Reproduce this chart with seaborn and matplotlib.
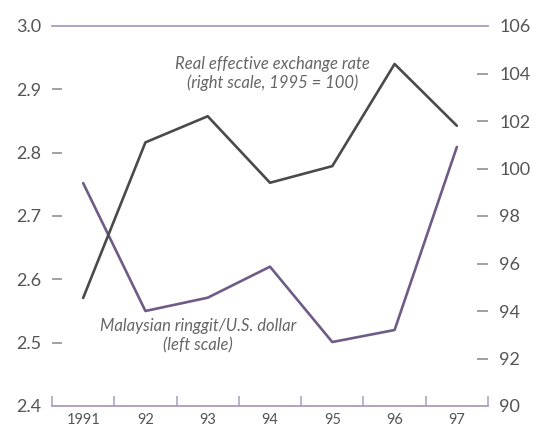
import matplotlib
matplotlib.use("Agg")
import matplotlib.pyplot as plt
import seaborn as sns
import pandas as pd
import numpy as np

years = ["1991", "92", "93", "94", "95", "96", "97"]
ringgit = [2.752, 2.550, 2.571, 2.620, 2.501, 2.520, 2.809]
reer = [94.55, 101.1, 102.2, 99.4, 100.1, 104.4, 101.8]
left_ticks = [2.4, 2.5, 2.6, 2.7, 2.8, 2.9, 3.0]
right_ticks = [90, 92, 94, 96, 98, 100, 102, 104, 106]

sns.set_theme(style="white")
plt.rcParams["font.family"] = ["Lato", "DejaVu Sans"]

purple = "#6f5c86"
axis_purple = "#ab9cbb"
dark = "#4a4a4a"
text_col = "#555555"

df = pd.DataFrame({"year": years, "x": np.arange(len(years)), "ringgit": ringgit, "reer": reer})

fig = plt.figure(figsize=(5.37, 4.30), dpi=100)
ax = fig.add_axes([52/537, 1-406/430, 436/537, 380/430])
ax2 = ax.twinx()

sns.lineplot(data=df, x="x", y="ringgit", ax=ax, color=purple, linewidth=1.9)
sns.lineplot(data=df, x="x", y="reer", ax=ax2, color=dark, linewidth=1.9)

ax.set_xlim(-0.5, len(years) - 0.5)
ax.set_ylim(2.4, 3.0)
ax2.set_ylim(90, 106)

for a in (ax, ax2):
    a.set_xlabel("")
    a.set_ylabel("")
    for s in ("left", "right", "top", "bottom"):
        a.spines[s].set_visible(False)
    a.grid(False)

ax.spines["bottom"].set_visible(True)
ax.spines["bottom"].set_color(axis_purple)
ax.spines["bottom"].set_linewidth(1.3)
ax.spines["top"].set_visible(True)
ax.spines["top"].set_color(axis_purple)
ax.spines["top"].set_linewidth(1.3)

# x ticks: labels at centers, tick marks at boundaries
ax.set_xticks(np.arange(len(years)))
ax.set_xticklabels(years)
ax.set_xticks(np.arange(len(years) + 1) - 0.5, minor=True)
ax.tick_params(axis="x", which="major", length=0, pad=5, labelsize=10.5, labelcolor=text_col)
ax.tick_params(axis="x", which="minor", direction="in", length=7, width=1.1, color=axis_purple, bottom=True)

ax.set_yticks(left_ticks)
ax.set_yticklabels([f"{v:.1f}" for v in left_ticks])
ax.tick_params(axis="y", which="major", left=True, direction="in", length=7, width=1.1,
               color="#888888", pad=8, labelsize=13, labelcolor=text_col)
ax2.set_yticks(right_ticks)
ax2.tick_params(axis="y", which="major", right=True, direction="in", length=8, width=1.1,
                color="#888888", pad=8, labelsize=13, labelcolor=text_col)
for t in ax.yaxis.get_major_ticks()[:1] + ax.yaxis.get_major_ticks()[-1:]:
    t.tick1line.set_visible(False)
for t in ax2.yaxis.get_major_ticks()[:1] + ax2.yaxis.get_major_ticks()[-1:]:
    t.tick2line.set_visible(False)

ax.text(0.505, 0.875, "Real effective exchange rate\n(right scale, 1995 = 100)",
        transform=ax.transAxes, ha="center", va="center", fontsize=12,
        style="italic", color="#666666", linespacing=1.25)
ax.text(0.335, 0.184, "Malaysian ringgit/U.S. dollar\n(left scale)",
        transform=ax.transAxes, ha="center", va="center", fontsize=12,
        style="italic", color="#666666", linespacing=1.25)

fig.savefig("out.png", dpi=100)
